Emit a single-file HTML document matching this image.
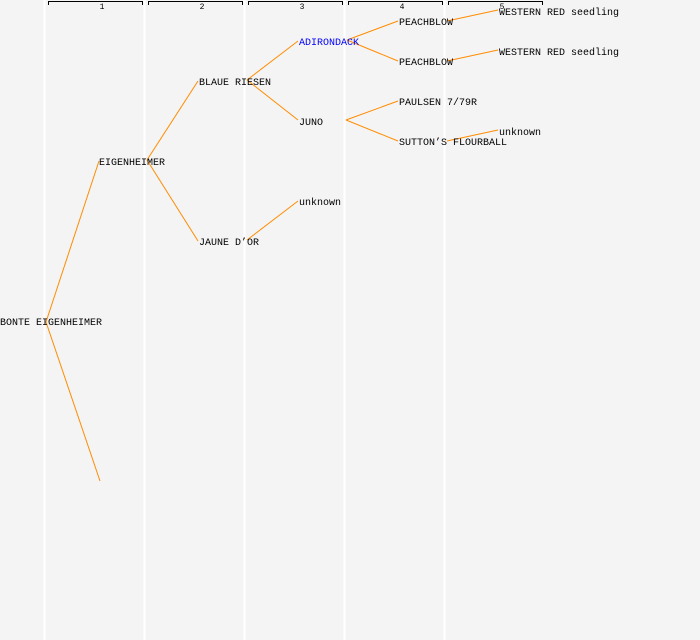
<!DOCTYPE html>
<html><head><style>
html,body{margin:0;padding:0;background:#f4f4f4;}
svg{display:block;}
text{font-family:"Liberation Mono","DejaVu Sans Mono",monospace;font-size:10px;fill:#000;}
</style></head><body>
<svg width="700" height="640" xmlns="http://www.w3.org/2000/svg">
<rect width="700" height="640" fill="#f4f4f4"/>
<g stroke="#fff" stroke-width="2">
<line x1="44.5" y1="0" x2="44.5" y2="640"/><line x1="144.5" y1="0" x2="144.5" y2="640"/>
<line x1="244.5" y1="0" x2="244.5" y2="640"/><line x1="344.5" y1="0" x2="344.5" y2="640"/>
<line x1="444.5" y1="0" x2="444.5" y2="640"/>
</g>
<g stroke="#000" stroke-width="1" fill="none">
<path d="M48.5 5V1.5H142.5V5"/><path d="M148.5 5V1.5H242.5V5"/><path d="M248.5 5V1.5H342.5V5"/>
<path d="M348.5 5V1.5H442.5V5"/><path d="M448.5 5V1.5H542.5V5"/>
</g>
<g text-anchor="middle">
<text x="102" y="9" style="font-size:8px">1</text><text x="202" y="9" style="font-size:8px">2</text>
<text x="302" y="9" style="font-size:8px">3</text><text x="402" y="9" style="font-size:8px">4</text>
<text x="502" y="9" style="font-size:8px">5</text>
</g>
<g stroke="#ff8c00" stroke-width="1" fill="none">
<line x1="46" y1="322" x2="99" y2="161"/><line x1="46" y1="322" x2="100" y2="481"/>
<line x1="147" y1="160" x2="198" y2="81"/><line x1="147" y1="160" x2="198" y2="241"/>
<line x1="247" y1="80" x2="298" y2="41"/><line x1="247" y1="80" x2="298" y2="120"/>
<line x1="247" y1="240" x2="298" y2="201"/>
<line x1="347" y1="40" x2="398" y2="21"/><line x1="347" y1="40" x2="398" y2="61"/>
<line x1="346" y1="120" x2="398" y2="101"/><line x1="346" y1="120" x2="398" y2="141"/>
<line x1="447" y1="21" x2="498" y2="10"/><line x1="447" y1="61" x2="498" y2="50"/>
<line x1="447" y1="141" x2="498" y2="130"/>
</g>
<text x="0" y="325">BONTE EIGENHEIMER</text>
<text x="99" y="165">EIGENHEIMER</text>
<text x="199" y="85">BLAUE RIESEN</text>
<text x="199" y="245">JAUNE D’OR</text>
<text x="299" y="45" style="fill:#0000ff">ADIRONDACK</text>
<text x="299" y="125">JUNO</text>
<text x="299" y="205">unknown</text>
<text x="399" y="25">PEACHBLOW</text>
<text x="399" y="65">PEACHBLOW</text>
<text x="399" y="105">PAULSEN 7/79R</text>
<text x="399" y="145">SUTTON’S FLOURBALL</text>
<text x="499" y="15">WESTERN RED seedling</text>
<text x="499" y="55">WESTERN RED seedling</text>
<text x="499" y="135">unknown</text>
</svg>
</body></html>
